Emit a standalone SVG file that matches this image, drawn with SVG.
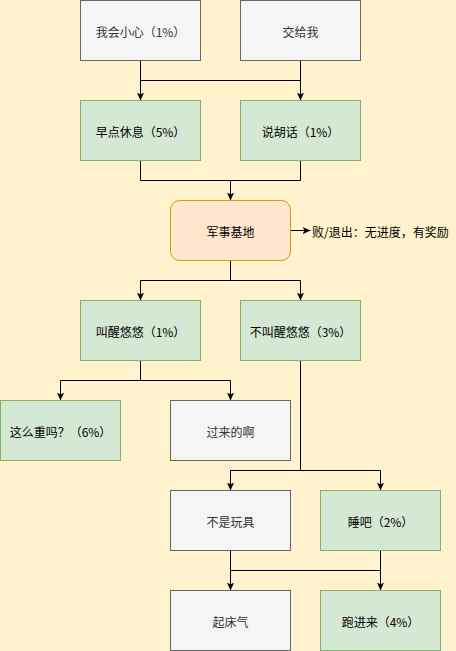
<svg xmlns="http://www.w3.org/2000/svg" width="456" height="651" viewBox="0 0 456 651">
<defs>
<marker id="arr" viewBox="0 0 10 10" refX="10" refY="5" markerWidth="8" markerHeight="8" markerUnits="userSpaceOnUse" orient="auto">
<path d="M0,0.5 L10,5 L0,9.5 L2.5,5 z" fill="#000"/>
</marker>
<style>
.bg{fill:#fff2cc}
.gray{fill:#f5f5f5;stroke:#666666;stroke-width:1}
.green{fill:#d5e8d4;stroke:#82b366;stroke-width:1}
.orange{fill:#ffe6cc;stroke:#d79b00;stroke-width:1}
text{font-family:"Microsoft YaHei","Noto Sans CJK SC","Liberation Sans",sans-serif;font-size:12px;text-anchor:middle;dominant-baseline:central}
.tg{fill:#333333}
.tk{fill:#000000}
.edge{fill:none;stroke:#000;stroke-width:1}
.ea{fill:none;stroke:#000;stroke-width:1;marker-end:url(#arr)}
</style>
</defs>
<rect class="bg" x="0" y="0" width="456" height="651"/>
<g id="connectors">
<path class="edge" d="M140.5,60.5 V80.5 M300.5,60.5 V80.5 M140.5,80.5 H300.5"/>
<path class="ea" d="M140.5,80.5 V100.5"/>
<path class="ea" d="M300.5,80.5 V100.5"/>
<path class="edge" d="M140.5,160.5 V180.5 H300.5 V160.5"/>
<path class="ea" d="M230.5,180.5 V200.5"/>
<path class="ea" d="M290.5,230.5 H310.5"/>
<path class="edge" d="M230.5,260.5 V280.5 M140.5,280.5 H300.5"/>
<path class="ea" d="M140.5,280.5 V300.5"/>
<path class="ea" d="M300.5,280.5 V300.5"/>
<path class="edge" d="M140.5,360.5 V380.5 M60.5,380.5 H230.5"/>
<path class="ea" d="M60.5,380.5 V400.5"/>
<path class="ea" d="M230.5,380.5 V400.5"/>
<path class="edge" d="M300.5,360.5 V470.5 M230.5,470.5 H380.5"/>
<path class="ea" d="M230.5,470.5 V490.5"/>
<path class="ea" d="M380.5,470.5 V490.5"/>
<path class="edge" d="M230.5,550.5 V570.5 M380.5,550.5 V570.5 M230.5,570.5 H380.5"/>
<path class="ea" d="M230.5,570.5 V590.5"/>
<path class="ea" d="M380.5,570.5 V590.5"/>
</g>
<g id="n1"><rect class="gray" x="80.5" y="0.5" width="120" height="60"/><text class="tg" x="140.5" y="31">我会小心（1%）</text></g>
<g id="n2"><rect class="gray" x="240.5" y="0.5" width="120" height="60"/><text class="tg" x="300.5" y="31">交给我</text></g>
<g id="n3"><rect class="green" x="80.5" y="100.5" width="120" height="60"/><text class="tk" x="140.5" y="131">早点休息（5%）</text></g>
<g id="n4"><rect class="green" x="240.5" y="100.5" width="120" height="60"/><text class="tk" x="300.5" y="131">说胡话（1%）</text></g>
<g id="n5"><rect class="orange" x="170.5" y="200.5" width="120" height="60" rx="9" ry="9"/><text class="tk" x="230.5" y="231">军事基地</text></g>
<g id="n6"><text class="tk" x="312" y="231" style="text-anchor:start">败/退出：无进度，有奖励</text></g>
<g id="n7"><rect class="green" x="80.5" y="300.5" width="120" height="60"/><text class="tk" x="140.5" y="331">叫醒悠悠（1%）</text></g>
<g id="n8"><rect class="green" x="240.5" y="300.5" width="120" height="60"/><text class="tk" x="300.5" y="331">不叫醒悠悠（3%）</text></g>
<g id="n9"><rect class="green" x="0.5" y="400.5" width="120" height="60"/><text class="tk" x="60.5" y="431">这么重吗？（6%）</text></g>
<g id="n10"><rect class="gray" x="170.5" y="400.5" width="120" height="60"/><text class="tg" x="230.5" y="431">过来的啊</text></g>
<g id="n11"><rect class="gray" x="170.5" y="490.5" width="120" height="60"/><text class="tg" x="230.5" y="521">不是玩具</text></g>
<g id="n12"><rect class="green" x="320.5" y="490.5" width="120" height="60"/><text class="tk" x="380.5" y="521">睡吧（2%）</text></g>
<g id="n13"><rect class="gray" x="170.5" y="590.5" width="120" height="60"/><text class="tg" x="230.5" y="621">起床气</text></g>
<g id="n14"><rect class="green" x="320.5" y="590.5" width="120" height="60"/><text class="tk" x="380.5" y="621">跑进来（4%）</text></g>
</svg>
